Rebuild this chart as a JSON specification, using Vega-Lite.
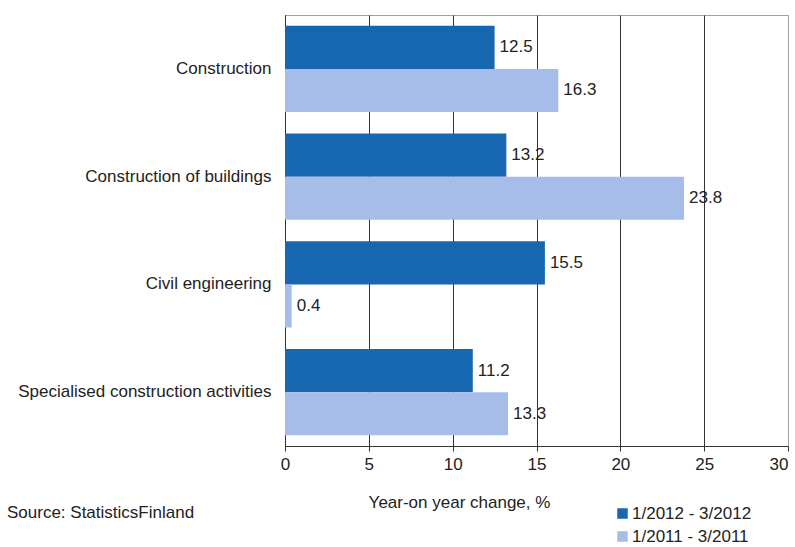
{
  "$schema": "https://vega.github.io/schema/vega-lite/v6.json",
  "width": 503,
  "height": 431,
  "autosize": {"type": "none"},
  "padding": {"left": 285, "top": 15, "right": 7, "bottom": 101},
  "config": {
    "font": "Liberation Sans",
    "view": {"stroke": "#a0a0a0", "strokeWidth": 1},
    "axis": {"labelFont": "Liberation Sans", "titleFont": "Liberation Sans", "labelColor": "#222", "titleColor": "#222"}
  },
  "title": {
    "text": "Source: StatisticsFinland",
    "orient": "bottom",
    "anchor": "start",
    "frame": "group",
    "fontSize": 17,
    "fontWeight": "normal",
    "color": "#222",
    "font": "Liberation Sans",
    "dx": -278,
    "dy": -40,
    "offset": 0
  },
  "data": {
    "values": [
      {"category": "Construction", "period": "1/2012 - 3/2012", "change": 12.5},
      {"category": "Construction", "period": "1/2011 - 3/2011", "change": 16.3},
      {"category": "Construction of buildings", "period": "1/2012 - 3/2012", "change": 13.2},
      {"category": "Construction of buildings", "period": "1/2011 - 3/2011", "change": 23.8},
      {"category": "Civil engineering", "period": "1/2012 - 3/2012", "change": 15.5},
      {"category": "Civil engineering", "period": "1/2011 - 3/2011", "change": 0.4},
      {"category": "Specialised construction activities", "period": "1/2012 - 3/2012", "change": 11.2},
      {"category": "Specialised construction activities", "period": "1/2011 - 3/2011", "change": 13.3}
    ]
  },
  "encoding": {
    "y": {
      "field": "category",
      "type": "nominal",
      "sort": null,
      "scale": {"paddingInner": 0.2, "paddingOuter": 0.1},
      "axis": {
        "title": null,
        "ticks": false,
        "domainColor": "#333",
        "labelFontSize": 17,
        "labelPadding": 14,
        "labelLimit": 300
      }
    },
    "yOffset": {
      "field": "period",
      "type": "nominal",
      "sort": ["1/2012 - 3/2012", "1/2011 - 3/2011"]
    },
    "x": {
      "field": "change",
      "type": "quantitative",
      "scale": {"domain": [0, 30]},
      "axis": {
        "title": "Year-on year change, %",
        "values": [0, 5, 10, 15, 20, 25, 30],
        "grid": true,
        "gridColor": {"condition": {"test": "datum.value == 30", "value": "#a0a0a0"}, "value": "#333"},
        "gridOpacity": 1,
        "domainColor": "#333",
        "tickColor": "#333",
        "tickSize": 5,
        "labelFlush": false,
        "labelAlign": {"condition": {"test": "datum.value == 30", "value": "right"}, "value": "center"},
        "labelFontSize": 17,
        "labelPadding": 5,
        "titleFontSize": 17,
        "titleFontWeight": "normal",
        "titleX": 174,
        "titleY": 48,
        "titleAnchor": "middle",
        "titleBaseline": "top"
      }
    }
  },
  "layer": [
    {
      "mark": {"type": "bar"},
      "encoding": {
        "color": {
          "field": "period",
          "type": "nominal",
          "scale": {"domain": ["1/2012 - 3/2012", "1/2011 - 3/2011"], "range": ["#1766b0", "#a7bde9"]},
          "legend": {
            "title": null,
            "orient": "none",
            "legendX": 329,
            "legendY": 490,
            "symbolType": "square",
            "symbolSize": 110,
            "symbolOpacity": 1,
            "symbolStrokeWidth": 0,
            "labelFontSize": 17,
            "labelFont": "Liberation Sans",
            "labelColor": "#222",
            "labelOffset": 1,
            "rowPadding": 5
          }
        }
      }
    },
    {
      "mark": {"type": "text", "align": "left", "baseline": "middle", "dx": 5, "fontSize": 17, "color": "#222"},
      "encoding": {
        "text": {"field": "change", "type": "quantitative", "format": ".1f"}
      }
    }
  ]
}
